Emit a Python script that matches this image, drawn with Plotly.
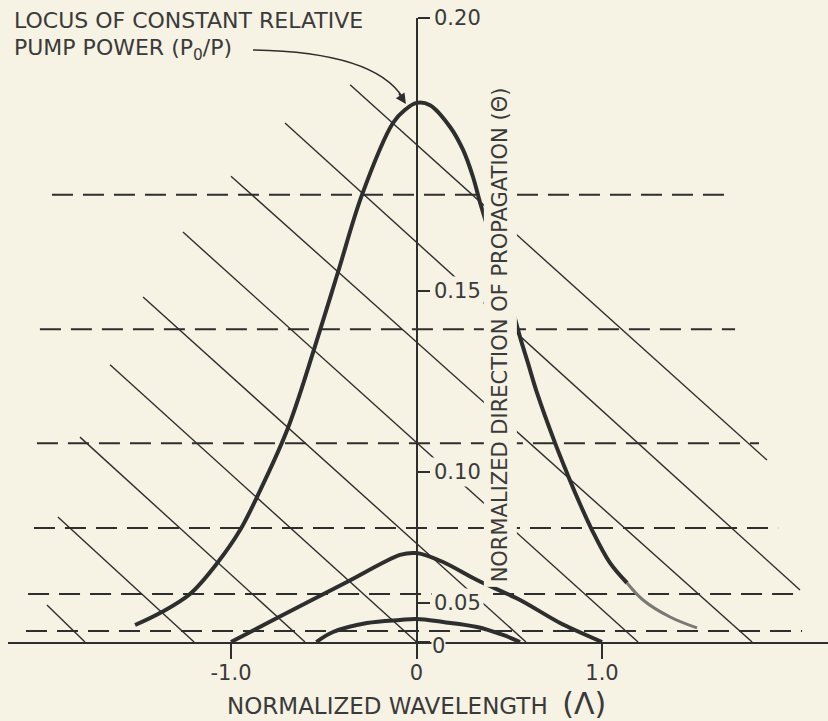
import plotly.graph_objects as go

# ---- data: normalized wavelength (Lambda) and normalized direction (theta) ----
# Locus of constant relative pump power
LOCUS_LAMBDA = [-1.517, -1.383, -1.221, -1.070, -0.951, -0.860, -0.693, -0.520, -0.423, -0.294,
                -0.127, -0.062, 0.0, 0.073, 0.181, 0.251, 0.305, 0.342, 0.515, 0.558, 0.601,
                0.650, 0.747, 0.811, 0.865, 0.946, 1.043, 1.135, 1.221, 1.367, 1.512]
LOCUS_THETA = [0.0330, 0.0431, 0.0555, 0.0716, 0.0847, 0.0964, 0.1171, 0.1414, 0.1540, 0.1693,
               0.1824, 0.1847, 0.1859, 0.1855, 0.1817, 0.1776, 0.1726, 0.1679, 0.1463, 0.1398,
               0.1337, 0.1263, 0.1129, 0.1041, 0.0964, 0.0847, 0.0712, 0.0615, 0.0519, 0.0400,
               0.0300]
LOCUS_FADE_FROM = 27  # the tail of the locus is drawn faintly

# Middle curve (spans -1.0 .. 1.0)
MID_LAMBDA = [-1.0, -0.752, -0.375, -0.089, 0.0, 0.143, 0.326, 0.558, 0.774, 1.0]
MID_THETA = [0.0, 0.0392, 0.0620, 0.0747, 0.0755, 0.0716, 0.0630, 0.0519, 0.0349, 0.0]

# Lower curve
LOW_LAMBDA = [-0.54, -0.450, -0.267, -0.089, 0.0, 0.143, 0.326, 0.466, 0.558]
LOW_THETA = [0.0, 0.0253, 0.0349, 0.0376, 0.0384, 0.0358, 0.0310, 0.0212, 0.0]

# Family of straight oblique lines (start and end of each)
DIAG_START_LAMBDA = [-0.358, -0.709, -1.000, -1.259, -1.474, -1.652, -1.814, -1.933, -1.992]
DIAG_START_THETA = [0.1890, 0.1824, 0.1728, 0.1621, 0.1487, 0.1333, 0.1146, 0.0895, 0.0487]
DIAG_END_LAMBDA = [1.889, 2.067, 1.809, 1.194, 0.590, 0.0, -0.601, -1.199, -1.787]
DIAG_END_THETA = [0.1080, 0.0577, 0.0, 0.0, 0.0, 0.0, 0.0, 0.0, 0.0]

# Dashed lines of constant theta
DASH_THETA = [0.1693, 0.1416, 0.1129, 0.0855, 0.0555, 0.0266]
DASH_FROM = [-1.965, -2.030, -2.046, -2.062, -2.094, -2.105]
DASH_TO = [1.674, 1.717, 1.846, 1.949, 2.078, 2.078]

# Axis ticks
XTICK_VALS = [-1.0, 0.0, 1.0]
XTICK_TEXT = ["-1.0", "0", "1.0"]
YTICK_THETA = [0.0, 0.05, 0.1044, 0.15, 0.20]
YTICK_TEXT = ["0", "0.05", "0.10", "0.15", "0.20"]

# ---- styling ----
BG = "#f6f2e4"
INK = "#2e2e2e"
TXT = "#3a3a3a"
FONT = "DejaVu Sans"
XMIN, XMAX = -2.202, 2.218
YMAX = 0.04  # vertical axis is drawn in theta squared


def sq(values):
    return [round(v * v, 10) for v in values]


fig = go.Figure()

# oblique lines
dx, dy = [], []
for l0, t0, l1, t1 in zip(DIAG_START_LAMBDA, DIAG_START_THETA, DIAG_END_LAMBDA, DIAG_END_THETA):
    dx += [l0, l1, None]
    dy += [t0 * t0, t1 * t1, None]
fig.add_trace(go.Scatter(x=dx, y=dy, mode="lines", line=dict(color=INK, width=1.4),
                         hoverinfo="skip", showlegend=False))

# dashed lines
hx, hy = [], []
for t, a, b in zip(DASH_THETA, DASH_FROM, DASH_TO):
    hx += [a, b, None]
    hy += [t * t, t * t, None]
fig.add_trace(go.Scatter(x=hx, y=hy, mode="lines",
                         line=dict(color=INK, width=2, dash="21px,10px"),
                         hoverinfo="skip", showlegend=False))

# curves
fig.add_trace(go.Scatter(x=LOCUS_LAMBDA[:LOCUS_FADE_FROM + 1], y=sq(LOCUS_THETA[:LOCUS_FADE_FROM + 1]),
                         mode="lines", line=dict(color=INK, width=4, shape="spline", smoothing=1.0),
                         showlegend=False))
fig.add_trace(go.Scatter(x=LOCUS_LAMBDA[LOCUS_FADE_FROM:], y=sq(LOCUS_THETA[LOCUS_FADE_FROM:]),
                         mode="lines", line=dict(color="#7a7874", width=3, shape="spline", smoothing=1.0),
                         showlegend=False))
fig.add_trace(go.Scatter(x=MID_LAMBDA, y=sq(MID_THETA), mode="lines",
                         line=dict(color=INK, width=4, shape="spline", smoothing=0.8),
                         showlegend=False))
fig.add_trace(go.Scatter(x=LOW_LAMBDA, y=sq(LOW_THETA), mode="lines",
                         line=dict(color=INK, width=4, shape="spline", smoothing=1.0),
                         showlegend=False))

annotations = []
# y tick labels (drawn on the page colour so they break the lines behind them)
for t, lab in zip(YTICK_THETA, YTICK_TEXT):
    annotations.append(dict(x=0, y=round(t * t, 10), xref="x", yref="y", text=lab, showarrow=False,
                            xanchor="left", yanchor="middle", xshift=14,
                            yshift=-4 if t == 0 else 0,
                            font=dict(family=FONT, size=21, color=TXT),
                            bgcolor=BG, borderpad=0 if t == 0 else 2))

# vertical axis title
annotations.append(dict(x=0.452, y=(642 - 335) / 624, xref="x", yref="paper",
                        text="NORMALIZED DIRECTION OF PROPAGATION (Θ)", showarrow=False,
                        textangle=-90, xanchor="center", yanchor="middle",
                        font=dict(family=FONT, size=21, color=TXT), bgcolor=BG, borderpad=4))

# horizontal axis title
annotations.append(dict(x=0.0, y=(642 - 703) / 624, xref="x", yref="paper",
                        text="NORMALIZED WAVELENGTH&nbsp;&nbsp;<span style='font-size:30px'>(Λ)</span>",
                        showarrow=False, xanchor="center", yanchor="middle",
                        font=dict(family=FONT, size=23, color=TXT)))

# callout text
annotations.append(dict(x=(12 - 8) / 820, y=(642 - 21) / 624, xref="paper", yref="paper",
                        text="LOCUS OF CONSTANT RELATIVE", showarrow=False,
                        xanchor="left", yanchor="middle",
                        font=dict(family=FONT, size=22, color=TXT)))
annotations.append(dict(x=(12 - 8) / 820, y=(642 - 49) / 624, xref="paper", yref="paper",
                        text="PUMP POWER (P<sub>0</sub>/P)", showarrow=False,
                        xanchor="left", yanchor="middle",
                        font=dict(family=FONT, size=22, color=TXT)))
# arrow head at the top of the locus
annotations.append(dict(x=-0.057, y=0.03449, xref="x", yref="y", text="", showarrow=True,
                        ax=-8, ay=-12, arrowhead=2, arrowsize=1.3, arrowwidth=1.6,
                        arrowcolor=INK, standoff=0))

fig.update_layout(
    width=828, height=721,
    margin=dict(l=8, r=0, t=18, b=79),
    paper_bgcolor=BG, plot_bgcolor=BG,
    showlegend=False,
    annotations=annotations,
    shapes=[dict(type="path", xref="x", yref="y",
                 path="M -0.881,0.03795 Q -0.224,0.03782 -0.073,0.03487",
                 line=dict(color=INK, width=1.6))],
    xaxis=dict(range=[XMIN, XMAX], showline=True, linecolor=INK, linewidth=2,
               ticks="outside", ticklen=15, tickwidth=2, tickcolor=INK,
               tickvals=XTICK_VALS, ticktext=XTICK_TEXT, ticklabelstandoff=-4,
               tickfont=dict(family=FONT, size=21, color=TXT),
               showgrid=False, zeroline=True, zerolinecolor=INK, zerolinewidth=2),
    yaxis=dict(range=[0, YMAX], anchor="free", position=(0 - XMIN) / (XMAX - XMIN),
               side="right", showline=False, ticks="outside", ticklen=12, tickwidth=2,
               tickcolor=INK, tickvals=sq(YTICK_THETA), showticklabels=False,
               showgrid=False, zeroline=False),
)

fig.write_html("out.html")
